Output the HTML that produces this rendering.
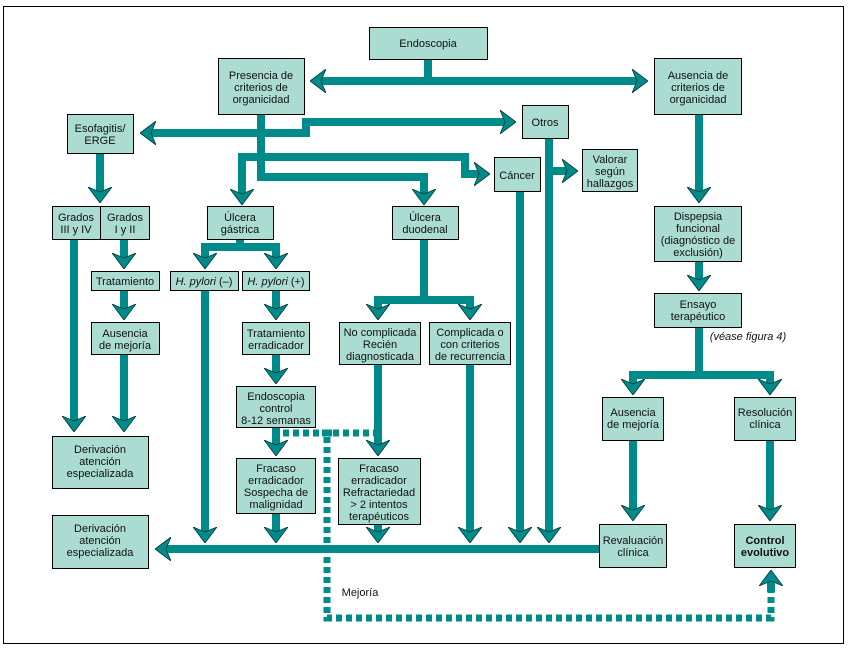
<!DOCTYPE html>
<html><head><meta charset="utf-8"><style>
html,body{margin:0;padding:0;background:#fff;}
svg{display:block;}
text{font-family:"Liberation Sans",sans-serif;font-size:11px;fill:#111;}
</style></head><body>
<svg width="849" height="653" viewBox="0 0 849 653" xmlns="http://www.w3.org/2000/svg">
<defs>
<marker id="a" markerUnits="userSpaceOnUse" viewBox="0 0 16 24" refX="5" refY="12" markerWidth="16" markerHeight="24" orient="auto">
<path d="M0,0 L16,12 L0,24 L5,12 Z" fill="#008b8b" stroke="#033" stroke-width="0.8"/>
</marker>
</defs>
<rect x="3.5" y="6.5" width="840" height="637" fill="#fff" stroke="#000" stroke-width="1"/>
<g fill="none" stroke="#008b8b" stroke-width="8">
<path d="M428,59 V81"/>
<path d="M428,81 H637" marker-end="url(#a)"/>
<path d="M428,81 H321" marker-end="url(#a)"/>
<path d="M261,114 V181"/>
<path d="M306,137 V122 H505" marker-end="url(#a)"/>
<path d="M306,133 H151" marker-end="url(#a)"/>
<path d="M261,157 H465 V174 H479" marker-end="url(#a)"/>
<path d="M261,157 H242 V194" marker-end="url(#a)"/>
<path d="M257,177 H424 V194" marker-end="url(#a)"/>
<path d="M100,153 V192" marker-end="url(#a)"/>
<path d="M74,239 V421" marker-end="url(#a)"/>
<path d="M124,239 V258" marker-end="url(#a)"/>
<path d="M124,290 V309" marker-end="url(#a)"/>
<path d="M124,354 V421" marker-end="url(#a)"/>
<path d="M240,239 V247"/>
<path d="M201,247 H280"/>
<path d="M205,247 V258" marker-end="url(#a)"/>
<path d="M276,247 V258" marker-end="url(#a)"/>
<path d="M205,290 V532" marker-end="url(#a)"/>
<path d="M276,290 V309" marker-end="url(#a)"/>
<path d="M276,354 V373" marker-end="url(#a)"/>
<path d="M276,427 V445" marker-end="url(#a)"/>
<path d="M276,513 V532" marker-end="url(#a)"/>
<path d="M424,239 V300"/>
<path d="M374,300 H474"/>
<path d="M378,300 V309" marker-end="url(#a)"/>
<path d="M470,300 V309" marker-end="url(#a)"/>
<path d="M378,364 V445" marker-end="url(#a)"/>
<path d="M378,524 V532" marker-end="url(#a)"/>
<path d="M470,364 V532" marker-end="url(#a)"/>
<path d="M520,191 V532" marker-end="url(#a)"/>
<path d="M549,138 V532" marker-end="url(#a)"/>
<path d="M549,171 H567" marker-end="url(#a)"/>
<path d="M599,549 H166" marker-end="url(#a)"/>
<path d="M699,114 V192" marker-end="url(#a)"/>
<path d="M699,261 V280" marker-end="url(#a)"/>
<path d="M699,327 V375"/>
<path d="M629,375 H774"/>
<path d="M633,375 V384" marker-end="url(#a)"/>
<path d="M770,375 V384" marker-end="url(#a)"/>
<path d="M633,440 V510" marker-end="url(#a)"/>
<path d="M770,440 V510" marker-end="url(#a)"/>
</g>
<g fill="none" stroke="#008b8b" stroke-width="7">
<path d="M283,433 H375" stroke-dasharray="6 4"/>
<path d="M327,437 V618 H771 V590" stroke-dasharray="6 4"/>
<path d="M322,433 H332"/>
<path d="M771,592 V581" stroke-width="8" marker-end="url(#a)"/>
</g>
<g fill="#aadcd2" stroke="#000" stroke-width="1">
<rect x="369.5" y="27.5" width="118" height="32"/>
<rect x="218.5" y="58.5" width="86" height="56"/>
<rect x="654.5" y="58.5" width="87" height="56"/>
<rect x="67.5" y="114.5" width="66" height="39"/>
<rect x="522.5" y="105.5" width="46" height="33"/>
<rect x="494.5" y="157.5" width="46" height="34"/>
<rect x="582.5" y="149.5" width="55" height="42"/>
<rect x="52.5" y="206.5" width="48" height="33"/>
<rect x="100.5" y="206.5" width="49" height="33"/>
<rect x="207.5" y="206.5" width="66" height="33"/>
<rect x="392.5" y="206.5" width="66" height="33"/>
<rect x="654.5" y="206.5" width="87" height="55"/>
<rect x="91.5" y="271.5" width="68" height="19"/>
<rect x="170.5" y="271.5" width="68" height="19"/>
<rect x="242.5" y="271.5" width="67" height="19"/>
<rect x="654.5" y="293.5" width="87" height="34"/>
<rect x="91.5" y="322.5" width="68" height="32"/>
<rect x="242.5" y="322.5" width="67" height="32"/>
<rect x="339.5" y="322.5" width="81" height="42"/>
<rect x="429.5" y="322.5" width="81" height="42"/>
<rect x="236.5" y="386.5" width="79" height="41"/>
<rect x="602.5" y="397.5" width="61" height="43"/>
<rect x="734.5" y="397.5" width="61" height="43"/>
<rect x="52.5" y="436.5" width="96" height="52"/>
<rect x="236.5" y="458.5" width="79" height="55"/>
<rect x="338.5" y="458.5" width="82" height="66"/>
<rect x="52.5" y="515.5" width="96" height="53"/>
<rect x="599.5" y="524.5" width="67" height="43"/>
<rect x="734.5" y="524.5" width="61" height="43"/>
</g>
<g text-anchor="middle">
<text x="428" y="47">Endoscopia</text>
<text x="261" y="79">Presencia de</text><text x="261" y="91">criterios de</text><text x="261" y="103">organicidad</text>
<text x="698" y="79">Ausencia de</text><text x="698" y="91">criterios de</text><text x="698" y="103">organicidad</text>
<text x="100" y="132">Esofagitis/</text><text x="100" y="144">ERGE</text>
<text x="545" y="126">Otros</text>
<text x="517" y="179">Cáncer</text>
<text x="610" y="163">Valorar</text><text x="610" y="175">según</text><text x="610" y="187">hallazgos</text>
<text x="76" y="221">Grados</text><text x="76" y="233">III y IV</text>
<text x="125" y="221">Grados</text><text x="125" y="233">I y II</text>
<text x="240" y="221">Úlcera</text><text x="240" y="233">gástrica</text>
<text x="425" y="221">Úlcera</text><text x="425" y="233">duodenal</text>
<text x="698" y="220">Dispepsia</text><text x="698" y="232">funcional</text><text x="698" y="244">(diagnóstico de</text><text x="698" y="256">exclusión)</text>
<text x="125" y="285">Tratamiento</text>
<text x="204" y="285"><tspan font-style="italic">H. pylori</tspan> (–)</text>
<text x="276" y="285"><tspan font-style="italic">H. pylori</tspan> (+)</text>
<text x="698" y="308">Ensayo</text><text x="698" y="320">terapéutico</text>
<text x="748" y="340" font-style="italic">(véase figura 4)</text>
<text x="125" y="337">Ausencia</text><text x="125" y="349">de mejoría</text>
<text x="276" y="337">Tratamiento</text><text x="276" y="349">erradicador</text>
<text x="380" y="336">No complicada</text><text x="380" y="348">Recién</text><text x="380" y="360">diagnosticada</text>
<text x="470" y="336">Complicada o</text><text x="470" y="348">con criterios</text><text x="470" y="360">de recurrencia</text>
<text x="276" y="400">Endoscopia</text><text x="276" y="412">control</text><text x="276" y="424">8-12 semanas</text>
<text x="633" y="416">Ausencia</text><text x="633" y="428">de mejoría</text>
<text x="765" y="416">Resolución</text><text x="765" y="428">clínica</text>
<text x="100" y="453">Derivación</text><text x="100" y="465">atención</text><text x="100" y="477">especializada</text>
<text x="276" y="472">Fracaso</text><text x="276" y="484">erradicador</text><text x="276" y="496">Sospecha de</text><text x="276" y="508">malignidad</text>
<text x="379" y="472">Fracaso</text><text x="379" y="484">erradicador</text><text x="379" y="496">Refractariedad</text><text x="379" y="508">&gt; 2 intentos</text><text x="379" y="520">terapéuticos</text>
<text x="100" y="532">Derivación</text><text x="100" y="544">atención</text><text x="100" y="556">especializada</text>
<text x="633" y="544">Revaluación</text><text x="633" y="556">clínica</text>
<text x="765" y="544" font-weight="bold">Control</text><text x="765" y="556" font-weight="bold">evolutivo</text>
<text x="360" y="596">Mejoría</text>
</g>
</svg>
</body></html>
